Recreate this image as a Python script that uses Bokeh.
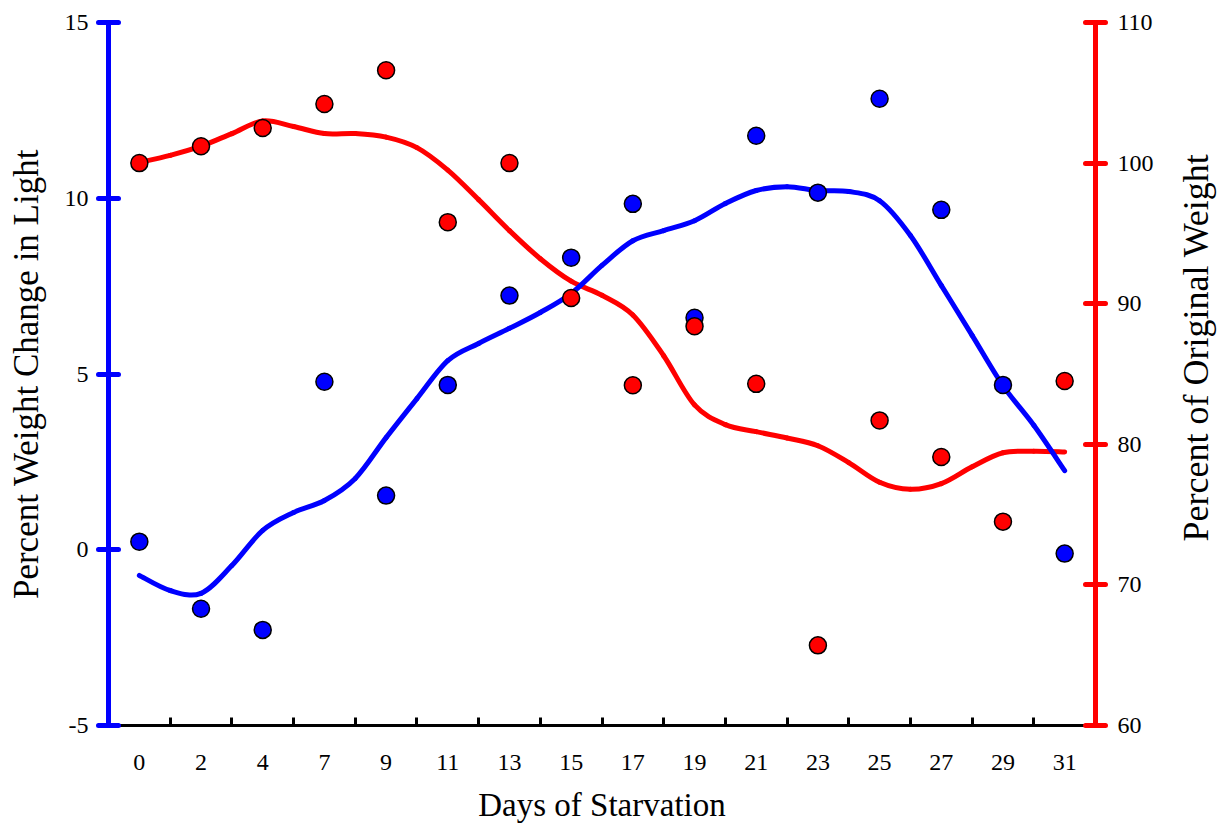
import math
from bokeh.plotting import figure
from bokeh.layouts import row
from bokeh.models import Range1d, LinearAxis, FixedTicker, Label
from bokeh.embed import file_html
from bokeh.resources import INLINE

# ---- data ----
days = ["0", "2", "4", "7", "9", "11", "13", "15", "17", "19", "21", "23", "25", "27", "29", "31"]
weight_change_light = [0.23, -1.68, -2.28, 4.78, 1.54, 4.69, 7.23, 8.31, 9.84, 6.60,
                       11.78, 10.16, 12.83, 9.67, 4.69, -0.11]
pct_original_weight = [100.0, 101.2, 102.5, 104.2, 106.6, 95.8, 100.0, 90.4, 84.2, 88.4,
                       84.3, 65.7, 81.7, 79.1, 74.5, 84.5]

# smoothed trend curves, sampled every half step between the day categories
curve_pos = [i / 2 for i in range(31)]
light_curve = [-0.73, -1.16, -1.24, -0.45, 0.55, 1.06, 1.40, 2.03, 3.19, 4.30, 5.38, 5.87,
               6.30, 6.75, 7.29, 8.09, 8.79, 9.08, 9.36, 9.85, 10.22, 10.33, 10.22, 10.19,
               9.93, 8.94, 7.52, 6.10, 4.67, 3.54, 2.25]
weight_curve = [100.05, 100.55, 101.2, 102.1, 103.0, 102.6, 102.1, 102.1, 101.85, 101.1,
                99.5, 97.4, 95.2, 93.2, 91.6, 90.6, 89.2, 86.3, 82.8, 81.4, 80.9, 80.45,
                79.9, 78.7, 77.3, 76.8, 77.2, 78.4, 79.4, 79.5, 79.45]

left_ticks = [-5, 0, 5, 10, 15]
right_ticks = [60, 70, 80, 90, 100, 110]

idx = list(range(len(days)))
FONT = "Liberation Serif"


def smooth_segments(xs, ys):
    """Catmull-Rom path through the sampled points, as cubic Bezier segments."""
    n = len(xs)
    seg = {k: [] for k in ("x0", "y0", "x1", "y1", "cx0", "cy0", "cx1", "cy1")}
    for i in range(n - 1):
        xa, ya = xs[max(i - 1, 0)], ys[max(i - 1, 0)]
        xb, yb = xs[i], ys[i]
        xc, yc = xs[i + 1], ys[i + 1]
        xd, yd = xs[min(i + 2, n - 1)], ys[min(i + 2, n - 1)]
        seg["x0"].append(xb); seg["y0"].append(yb)
        seg["x1"].append(xc); seg["y1"].append(yc)
        seg["cx0"].append(xb + (xc - xa) / 6); seg["cy0"].append(yb + (yc - ya) / 6)
        seg["cx1"].append(xc - (xd - xb) / 6); seg["cy1"].append(yc - (yd - yb) / 6)
    return seg


p = figure(width=1170, height=827, output_backend="svg", toolbar_location=None,
           x_range=Range1d(-0.5, 15.5), y_range=Range1d(-5, 15),
           min_border_left=108, min_border_right=75, min_border_top=22, min_border_bottom=102)
p.outline_line_color = None
p.grid.visible = False
p.background_fill_color = "white"
p.border_fill_color = "white"
p.extra_y_ranges = {"pct": Range1d(60, 110)}

# bottom axis
xa = p.xaxis[0]
xa.ticker = FixedTicker(ticks=idx, minor_ticks=[i + 0.5 for i in idx[:-1]])
xa.major_label_overrides = {i: d for i, d in zip(idx, days)}
xa.major_tick_in = 0
xa.major_tick_out = 0
xa.minor_tick_in = 8
xa.minor_tick_out = 0
xa.minor_tick_line_width = 3
xa.minor_tick_line_color = "black"
xa.axis_line_width = 3
xa.axis_line_color = "black"
xa.major_label_text_font = FONT
xa.major_label_text_font_size = "24px"
xa.major_label_text_color = "black"
xa.major_label_standoff = 29
xa.axis_label = "Days of Starvation"
xa.axis_label_text_font = FONT
xa.axis_label_text_font_size = "33px"
xa.axis_label_text_font_style = "normal"
xa.axis_label_text_color = "black"
xa.axis_label_standoff = 14

# left axis
ya = p.yaxis[0]
ya.ticker = FixedTicker(ticks=left_ticks)
ya.major_label_overrides = {t: str(t) for t in left_ticks}
ya.minor_tick_line_color = None
ya.axis_line_color = "blue"
ya.axis_line_width = 5
ya.major_tick_line_color = "blue"
ya.major_tick_line_width = 5
ya.major_tick_line_cap = "round"
ya.major_tick_in = 10
ya.major_tick_out = 10
ya.major_label_text_font = FONT
ya.major_label_text_font_size = "24px"
ya.major_label_text_color = "black"
ya.major_label_standoff = 10
ya.axis_label = "Percent Weight Change in Light"
ya.axis_label_text_font = FONT
ya.axis_label_text_font_size = "35px"
ya.axis_label_text_font_style = "normal"
ya.axis_label_text_color = "black"
ya.axis_label_standoff = 16

# right axis
ra = LinearAxis(y_range_name="pct", ticker=FixedTicker(ticks=right_ticks))
ra.major_label_overrides = {t: str(t) for t in right_ticks}
ra.minor_tick_line_color = None
ra.axis_line_color = "red"
ra.axis_line_width = 5
ra.major_tick_line_color = "red"
ra.major_tick_line_width = 5
ra.major_tick_line_cap = "round"
ra.major_tick_in = 10
ra.major_tick_out = 10
ra.major_label_text_font = FONT
ra.major_label_text_font_size = "24px"
ra.major_label_text_color = "black"
ra.major_label_standoff = 12
p.add_layout(ra, "right")

# smoothed curves
rs = smooth_segments(curve_pos, weight_curve)
p.bezier(y_range_name="pct", line_color="red", line_width=5, line_cap="round", **rs)
bs = smooth_segments(curve_pos, light_curve)
p.bezier(line_color="blue", line_width=5, line_cap="round", **bs)

# points
p.scatter(idx, weight_change_light, size=17, fill_color="blue", line_color="black", line_width=1.5)
p.scatter(idx, pct_original_weight, y_range_name="pct", size=17, fill_color="red",
          line_color="black", line_width=1.5)

# narrow side panel carrying the right-hand title, reading bottom to top
t = figure(width=55, height=827, output_backend="svg", toolbar_location=None,
           x_range=Range1d(0, 55), y_range=Range1d(0, 703),
           min_border_left=0, min_border_right=0, min_border_top=22, min_border_bottom=102)
t.outline_line_color = None
t.grid.visible = False
t.axis.visible = False
t.background_fill_color = "white"
t.border_fill_color = "white"
t.add_layout(Label(x=25, y=378, text="Percent of Original Weight", angle=math.pi / 2,
                   text_align="center", text_baseline="middle", text_font=FONT,
                   text_font_size="36px", text_color="black"))

layout = row(p, t, spacing=0)
open("out.html", "w").write(file_html(layout, INLINE))
